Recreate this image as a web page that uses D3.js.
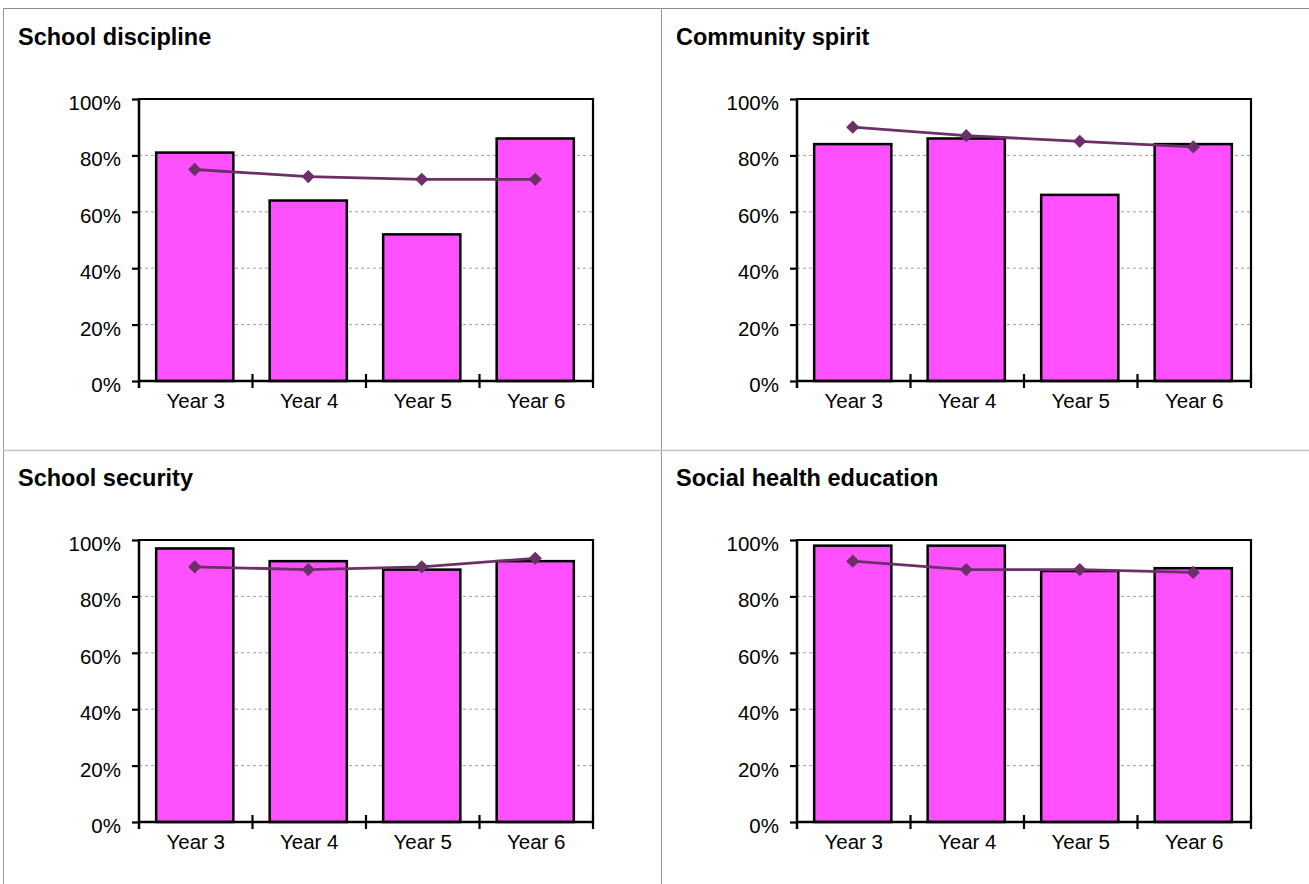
<!DOCTYPE html>
<html>
<head>
<meta charset="utf-8">
<title>Survey results by year level</title>
<script src="https://cdn.jsdelivr.net/npm/d3@7"></script>
<style>
  html, body { margin: 0; padding: 0; background: #fff; }
  svg { display: block; font-family: "Liberation Sans", Arial, sans-serif; }
</style>
</head>
<body>
<svg id="chart" width="1309" height="884"></svg>
<script>
// Year levels shown on every panel
const categories = ["Year 3", "Year 4", "Year 5", "Year 6"];
const yTicks = [0, 0.2, 0.4, 0.6, 0.8, 1.0];

// Panel titles
const titles = ["School discipline", "Community spirit", "School security", "Social health education"];

// Bar series (school result) per panel
const disciplineBars = [0.81, 0.64, 0.52, 0.86];
const communityBars  = [0.84, 0.86, 0.66, 0.84];
const securityBars   = [0.97, 0.925, 0.895, 0.925];
const healthBars     = [0.98, 0.98, 0.89, 0.90];

// Line series (comparison) per panel
const disciplineLine = [0.75, 0.725, 0.715, 0.715];
const communityLine  = [0.90, 0.87, 0.85, 0.83];
const securityLine   = [0.905, 0.895, 0.905, 0.935];
const healthLine     = [0.925, 0.895, 0.895, 0.885];

const panels = [
  { title: titles[0], bars: disciplineBars, line: disciplineLine, col: 0, row: 0 },
  { title: titles[1], bars: communityBars,  line: communityLine,  col: 1, row: 0 },
  { title: titles[2], bars: securityBars,   line: securityLine,   col: 0, row: 1 },
  { title: titles[3], bars: healthBars,     line: healthLine,     col: 1, row: 1 }
];

const svg = d3.select("#chart");

// Panel grid lines
svg.append("line").attr("x1", 3).attr("x2", 1309).attr("y1", 8.5).attr("y2", 8.5)
  .attr("stroke", "#8c8c8c").attr("stroke-width", 1);
svg.append("line").attr("x1", 3.5).attr("x2", 3.5).attr("y1", 8).attr("y2", 884)
  .attr("stroke", "#9a9a9a").attr("stroke-width", 1);
svg.append("line").attr("x1", 661.5).attr("x2", 661.5).attr("y1", 8).attr("y2", 884)
  .attr("stroke", "#9a9a9a").attr("stroke-width", 1);
svg.append("line").attr("x1", 3).attr("x2", 1309).attr("y1", 450.5).attr("y2", 450.5)
  .attr("stroke", "#c4c4c4").attr("stroke-width", 1.5);

const plotW = 454, plotH = 282;
const barFill = "#ff50ff";
const lineColor = "#6b3068";

panels.forEach(p => {
  const ox = 3 + p.col * 658;
  const oy = 8 + p.row * 441;
  const g = svg.append("g").attr("transform", `translate(${ox},${oy})`);

  g.append("text")
    .attr("x", 15).attr("y", 37)
    .attr("font-size", 23.5).attr("font-weight", "bold").attr("fill", "#000")
    .text(p.title);

  const plot = g.append("g").attr("transform", "translate(136,91)");

  const x = d3.scaleBand().domain(categories).range([0, plotW]).padding(0);
  const y = d3.scaleLinear().domain([0, 1]).range([plotH, 0]);

  // dashed gridlines
  plot.append("g").selectAll("line")
    .data(yTicks.filter(t => t > 0 && t < 1))
    .join("line")
    .attr("x1", 0).attr("x2", plotW)
    .attr("y1", d => y(d)).attr("y2", d => y(d))
    .attr("stroke", "#a0a0a0").attr("stroke-width", 1)
    .attr("stroke-dasharray", "3,3");

  // plot frame (top and right)
  plot.append("path")
    .attr("d", `M0,${y(1)}H${plotW}V${y(0)}`)
    .attr("fill", "none").attr("stroke", "#000").attr("stroke-width", 2.2);

  // bars
  const barW = x.bandwidth() * 0.68;
  plot.append("g").selectAll("rect")
    .data(p.bars)
    .join("rect")
    .attr("x", (d, i) => x(categories[i]) + (x.bandwidth() - barW) / 2 - 1)
    .attr("width", barW)
    .attr("y", d => y(d))
    .attr("height", d => y(0) - y(d))
    .attr("fill", barFill)
    .attr("stroke", "#000").attr("stroke-width", 2.5);

  // left axis
  const yAxis = d3.axisLeft(y).tickValues(yTicks).tickFormat(d3.format(".0%"))
    .tickSize(7).tickPadding(11);
  const ya = plot.append("g").call(yAxis);
  ya.select(".domain").remove();
  ya.selectAll(".tick line").attr("stroke", "#000").attr("stroke-width", 2.2);
  ya.selectAll(".tick text")
    .attr("font-size", 20.5).attr("fill", "#000")
    .attr("font-family", "Liberation Sans, Arial, sans-serif")
    .attr("y", 4);
  plot.append("line").attr("x1", 0).attr("x2", 0).attr("y1", y(1) - 1).attr("y2", y(0) + 7)
    .attr("stroke", "#000").attr("stroke-width", 2.5);

  // bottom axis: labels centred on categories, cross ticks at boundaries
  const xAxis = d3.axisBottom(x).tickSize(0).tickPadding(12);
  const xa = plot.append("g").attr("transform", `translate(0,${plotH})`).call(xAxis);
  xa.select(".domain").remove();
  xa.selectAll(".tick text")
    .attr("font-size", 20.5).attr("fill", "#000")
    .attr("font-family", "Liberation Sans, Arial, sans-serif");
  plot.append("line").attr("x1", 0).attr("x2", plotW + 1).attr("y1", plotH).attr("y2", plotH)
    .attr("stroke", "#000").attr("stroke-width", 2.5);
  const bounds = categories.slice(1).map(c => x(c)).concat([plotW]);
  plot.append("g").selectAll("line")
    .data(bounds)
    .join("line")
    .attr("x1", d => d).attr("x2", d => d)
    .attr("y1", plotH - 7).attr("y2", plotH + 7)
    .attr("stroke", "#000").attr("stroke-width", 2.2);

  // comparison line with diamond markers
  const cx = i => x(categories[i]) + x.bandwidth() / 2 - 1;
  const lineGen = d3.line().x((d, i) => cx(i)).y(d => y(d));
  plot.append("path")
    .attr("d", lineGen(p.line))
    .attr("fill", "none").attr("stroke", lineColor).attr("stroke-width", 2.8);
  const diamond = d3.symbol().type(d3.symbolSquare).size(88);
  plot.append("g").selectAll("path")
    .data(p.line)
    .join("path")
    .attr("d", diamond)
    .attr("transform", (d, i) => `translate(${cx(i)},${y(d)}) rotate(45)`)
    .attr("fill", lineColor);
});
</script>
</body>
</html>
